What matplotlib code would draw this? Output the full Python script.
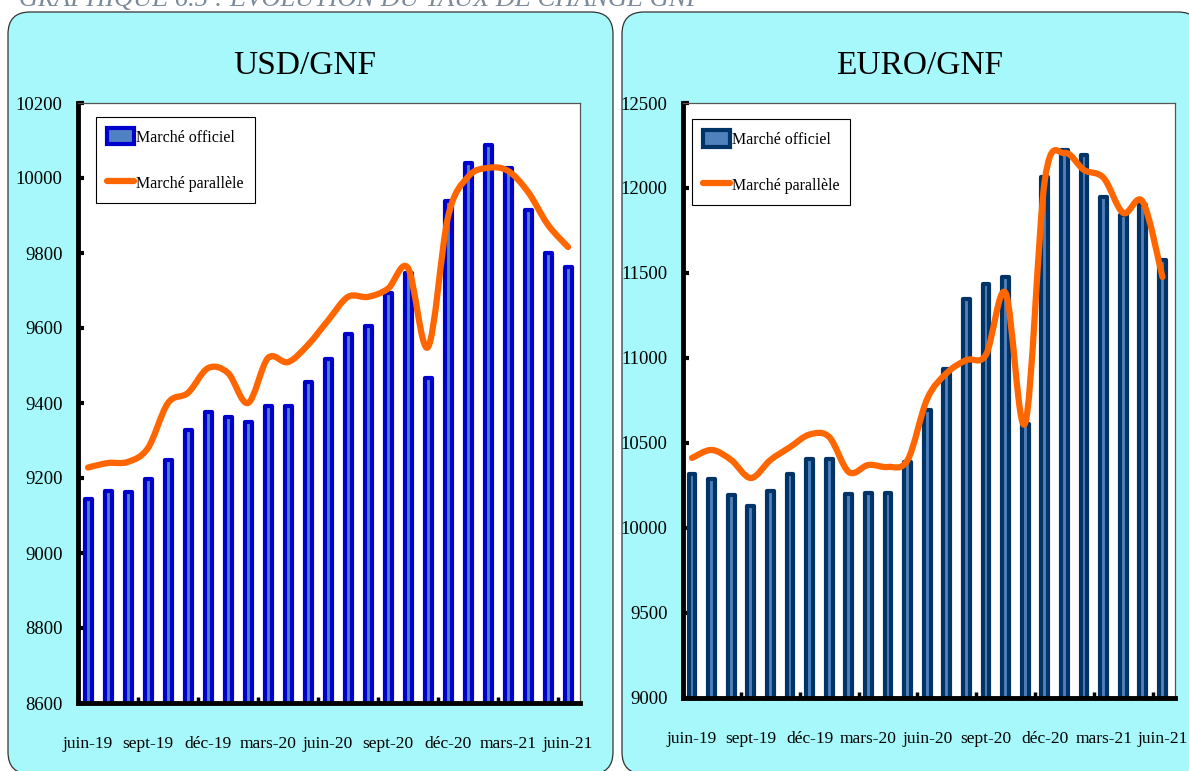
import numpy as np
import matplotlib
matplotlib.use("Agg")
import matplotlib.pyplot as plt
from matplotlib.patches import FancyBboxPatch, PathPatch
from matplotlib.path import Path
from matplotlib.lines import Line2D

plt.rcParams['font.family'] = ['Liberation Serif', 'DejaVu Serif']

# --- data: monthly rates, juin-19 .. juin-21 ---
months = ['juin-19', 'juil-19', 'août-19', 'sept-19', 'oct-19', 'nov-19', 'déc-19',
          'janv-20', 'févr-20', 'mars-20', 'avr-20', 'mai-20', 'juin-20', 'juil-20',
          'août-20', 'sept-20', 'oct-20', 'nov-20', 'déc-20', 'janv-21', 'févr-21',
          'mars-21', 'avr-21', 'mai-21', 'juin-21']

usd_officiel = [9145, 9166, 9163, 9198, 9248, 9328, 9376, 9363, 9350, 9392, 9392, 9457, 9518,
                9584, 9606, 9694, 9747, 9467, 9939, 10040, 10088, 10027, 9915, 9800, 9763]
usd_parallele = [9228, 9240, 9243, 9280, 9400, 9427, 9493, 9480, 9400, 9520, 9509, 9555, 9620,
                 9683, 9683, 9705, 9760, 9549, 9896, 10003, 10027, 10019, 9963, 9875, 9816]

eur_officiel = [10317, 10288, 10194, 10129, 10217, 10317, 10406, 10406, 10200, 10206, 10206,
                10388, 10694, 10935, 11347, 11435, 11476, 10612, 12064, 12223, 12194, 11947,
                11841, 11900, 11576]
eur_parallele = [10412, 10459, 10400, 10294, 10400, 10476, 10550, 10535, 10329, 10371, 10359,
                 10400, 10760, 10912, 10988, 11020, 11382, 10618, 12047, 12206, 12106, 12059,
                 11853, 11918, 11476]

W, H = 1189, 771
fig = plt.figure(figsize=(W / 100, H / 100), dpi=100)


def px_box(x0, y0, x1, y1):
    # pixel box (top-left origin) -> figure fraction rect
    return [x0 / W, 1 - y1 / H, (x1 - x0) / W, (y1 - y0) / H]


def smooth_path(x, y):
    # Catmull-Rom style bezier through the points (like a spreadsheet "smoothed line")
    n = len(x)
    verts = [(x[0], y[0])]
    codes = [Path.MOVETO]
    for i in range(n - 1):
        i0 = max(i - 1, 0)
        i3 = min(i + 2, n - 1)
        c1 = (x[i] + (x[i + 1] - x[i0]) / 6, y[i] + (y[i + 1] - y[i0]) / 6)
        c2 = (x[i + 1] - (x[i3] - x[i]) / 6, y[i + 1] - (y[i3] - y[i]) / 6)
        verts += [c1, c2, (x[i + 1], y[i + 1])]
        codes += [Path.CURVE4] * 3
    return Path(verts, codes)


# header (cut off at top of the page)
fig.text(19 / W, 1 - 6 / H, 'GRAPHIQUE 6.5 : ÉVOLUTION DU TAUX DE CHANGE GNF',
         fontsize=19, style='italic', color='#7a8a99', va='baseline', ha='left')

# cyan rounded panels, drawn in inches
for x0, x1 in [(8, 613), (622, 1200)]:
    panel = FancyBboxPatch(((x0) / 100, (H - 774) / 100), (x1 - x0) / 100, (774 - 12) / 100,
                           boxstyle='round,pad=0,rounding_size=0.22',
                           transform=fig.dpi_scale_trans, facecolor='#a6f8fa',
                           edgecolor='#333333', linewidth=0.9, zorder=-5)
    fig.patches.append(panel)

panels = [
    dict(rect=px_box(78, 103, 580, 703), title='USD/GNF', tx=305,
         off=usd_officiel, par=usd_parallele, ylim=(8600, 10200), step=200,
         edge='#0000cc', face='#4f81c4', xlim=(-0.5, 24.6),
         minor=np.arange(2.5, 24, 3), leg=(0.036, 0.977)),
    dict(rect=px_box(683, 103, 1175, 698), title='EURO/GNF', tx=920,
         off=eur_officiel, par=eur_parallele, ylim=(9000, 12500), step=500,
         edge='#003366', face='#4f81bd', xlim=(-0.46, 24.64),
         minor=np.arange(1, 24, 1.5), leg=(0.018, 0.973)),
]

x = np.arange(len(months))
for p in panels:
    ax = fig.add_axes(p['rect'])
    ax.set_facecolor('white')
    bars = ax.bar(x, p['off'], width=0.35, color=p['face'], edgecolor=p['edge'],
                  linewidth=3, label='Marché officiel', zorder=2)
    for b in bars:
        b.set_joinstyle('round')
    ax.add_patch(PathPatch(smooth_path(x, p['par']), fill=False, edgecolor='#ff6600',
                           linewidth=4.5, capstyle='round', joinstyle='round', zorder=3))

    ax.set_xlim(*p['xlim'])
    ax.set_ylim(*p['ylim'])
    ax.set_yticks(np.arange(p['ylim'][0], p['ylim'][1] + 1, p['step']))
    ax.set_xticks(x[::3])
    ax.set_xticklabels(months[::3])
    ax.set_xticks(p['minor'], minor=True)

    ax.tick_params(axis='y', direction='in', length=4, width=3, pad=11, labelsize=13.5)
    ax.tick_params(axis='x', which='major', length=0, pad=24, labelsize=12.5)
    ax.tick_params(axis='x', which='minor', direction='in', length=4, width=2.5)

    for s in ['left', 'bottom']:
        ax.spines[s].set_linewidth(3.5)
        ax.spines[s].set_color('black')
        ax.spines[s].set_capstyle('projecting')
    for s in ['top', 'right']:
        ax.spines[s].set_linewidth(0.9)
        ax.spines[s].set_color('#555555')

    line_h = Line2D([], [], color='#ff6600', linewidth=4.5, solid_capstyle='round')
    leg = ax.legend([bars, line_h], ['Marché officiel', 'Marché parallèle'],
                    loc='upper left', bbox_to_anchor=p['leg'], borderaxespad=0,
                    fontsize=11.5, fancybox=False, framealpha=1, edgecolor='black',
                    handlelength=1.7, handleheight=1.2, handletextpad=0.1,
                    labelspacing=1.8, borderpad=0.7)
    leg.get_frame().set_linewidth(0.8)

    fig.text(p['tx'] / W, 1 - 66 / H, p['title'], fontsize=24, ha='center', va='center')

fig.savefig('out.png', dpi=100)
